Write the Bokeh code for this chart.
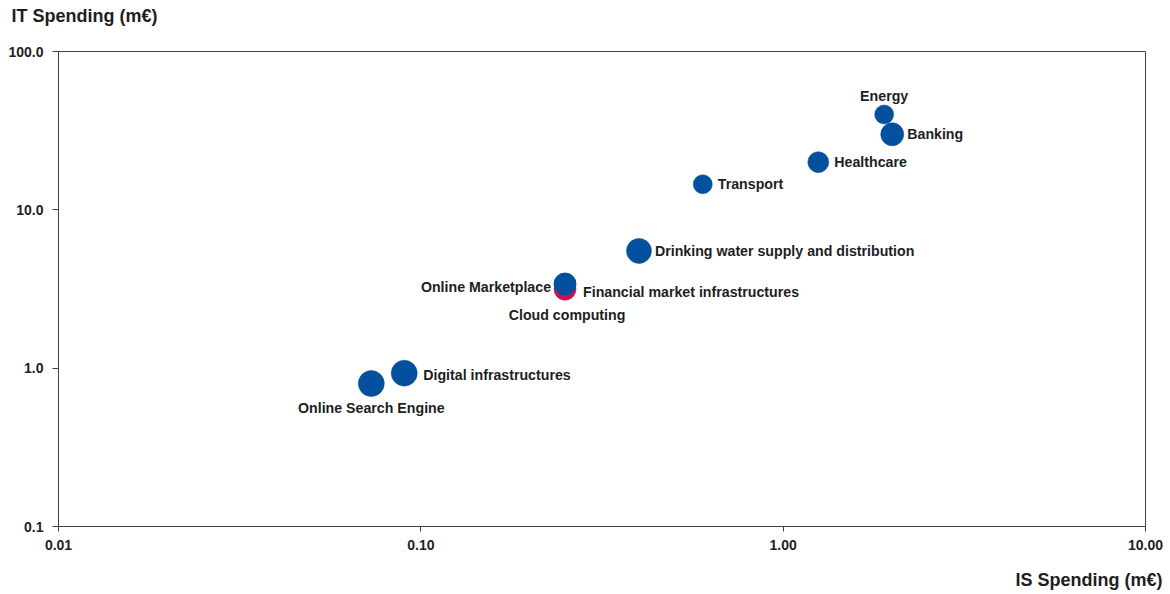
from bokeh.plotting import figure
from bokeh.models import ColumnDataSource, FixedTicker, CustomJSTickFormatter, Title, Range1d
from bokeh.core.properties import value
from bokeh.embed import file_html
from bokeh.resources import INLINE

# ---- data ----
names = ["Cloud computing", "Online Marketplace", "Financial market infrastructures",
         "Energy", "Banking", "Healthcare", "Transport",
         "Drinking water supply and distribution", "Digital infrastructures",
         "Online Search Engine"]
is_spending = [0.25, 0.25, 0.25, 1.9, 2.0, 1.25, 0.6, 0.4, 0.09, 0.073]
it_spending = [3.15, 3.4, 3.4, 40.0, 30.0, 20.0, 14.5, 5.5, 0.93, 0.8]
bubble = [22, 22, 22, 19, 23, 21, 19, 25, 26, 26]
group = ["red", "blue", "blue", "blue", "blue", "blue", "blue", "blue", "blue", "blue"]

x_ticks = [0.01, 0.1, 1, 10]
x_tick_labels = ["0.01", "0.10", "1.00", "10.00"]
y_ticks = [0.1, 1, 10, 100]
y_tick_labels = ["0.1", "1.0", "10.0", "100.0"]
y_title = "IT Spending (m€)"
x_title = "IS Spending (m€)"

# ---- styling (label placement) ----
colors = {"blue": "#02509e", "red": "#c8124a"}
label_style = {
    "Cloud computing": (2, 26, "center"),
    "Online Marketplace": (-14, 3, "right"),
    "Financial market infrastructures": (18, 8, "left"),
    "Energy": (0, -19, "center"),
    "Banking": (15, 0, "left"),
    "Healthcare": (16, 0, "left"),
    "Transport": (15, 0, "left"),
    "Drinking water supply and distribution": (16, 0, "left"),
    "Digital infrastructures": (19, 2, "left"),
    "Online Search Engine": (0, 24, "center"),
}

FONT = "Liberation Sans"
TEXT_COLOR = "#1e1e1e"
AXIS_COLOR = "#404040"

p = figure(width=1170, height=594, x_axis_type="log", y_axis_type="log",
           x_range=Range1d(0.01, 10), y_range=Range1d(0.1, 100),
           title=None, output_backend="svg", toolbar_location=None,
           min_border_left=58, min_border_right=25, min_border_top=51, min_border_bottom=68)
p.background_fill_color = "white"
p.border_fill_color = "white"
p.outline_line_color = AXIS_COLOR
p.outline_line_width = 1
p.grid.visible = False

src = ColumnDataSource(dict(x=is_spending, y=it_spending, size=bubble,
                            color=[colors[g] for g in group]))
p.scatter("x", "y", size="size", fill_color="color", line_color="color",
          line_width=0.5, source=src)

for align in ["left", "right", "center"]:
    idx = [i for i, n in enumerate(names) if label_style[n][2] == align]
    s = ColumnDataSource(dict(
        x=[is_spending[i] for i in idx], y=[it_spending[i] for i in idx],
        t=[names[i] for i in idx],
        dx=[label_style[names[i]][0] for i in idx],
        dy=[label_style[names[i]][1] for i in idx]))
    p.text("x", "y", text="t", x_offset="dx", y_offset="dy", source=s,
           text_align=align, text_baseline="middle",
           text_font=value(FONT), text_font_style="bold",
           text_font_size="14.2px", text_color=TEXT_COLOR)

p.xaxis.ticker = FixedTicker(ticks=x_ticks)
p.yaxis.ticker = FixedTicker(ticks=y_ticks)
fmt_code = """
let best = -1, bd = 1e9;
for (let i = 0; i < ticks_v.length; i++) {
  const d = Math.abs(Math.log10(ticks_v[i]) - Math.log10(tick));
  if (d < bd) { bd = d; best = i; }
}
return (best >= 0 && bd < 1e-6) ? labels[best] : "";
"""
p.xaxis.formatter = CustomJSTickFormatter(args=dict(ticks_v=x_ticks, labels=x_tick_labels), code=fmt_code)
p.yaxis.formatter = CustomJSTickFormatter(args=dict(ticks_v=y_ticks, labels=y_tick_labels), code=fmt_code)

for ax in [p.xaxis, p.yaxis]:
    ax.axis_line_color = AXIS_COLOR
    ax.major_tick_line_color = AXIS_COLOR
    ax.minor_tick_line_color = None
    ax.major_tick_in = 0
    ax.major_label_text_font = FONT
    ax.major_label_text_font_style = "bold"
    ax.major_label_text_font_size = "14px"
    ax.major_label_text_color = TEXT_COLOR
p.yaxis.major_tick_out = 6
p.yaxis.major_label_standoff = 9
p.xaxis.major_tick_out = 5
p.xaxis.major_label_standoff = 8

# spacer titles keep the axis titles away from the frame
p.add_layout(Title(text=" ", text_font_size="1px", standoff=23), "above")
p.add_layout(Title(text=y_title, align="left", offset=-47, standoff=0,
                   text_font=FONT, text_font_style="bold", text_font_size="18px",
                   text_color=TEXT_COLOR), "above")
p.add_layout(Title(text=" ", text_font_size="1px", standoff=12), "below")
p.add_layout(Title(text=x_title, align="right", offset=-17, standoff=0,
                   text_font=FONT, text_font_style="bold", text_font_size="18px",
                   text_color=TEXT_COLOR), "below")

open("out.html", "w").write(file_html(p, INLINE))
